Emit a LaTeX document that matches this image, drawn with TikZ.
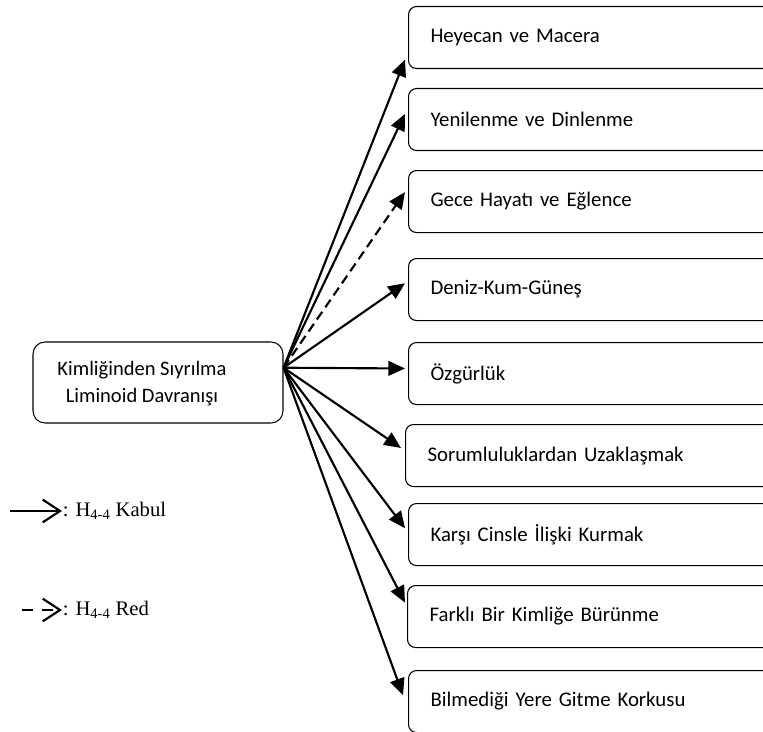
\documentclass[tikz,border=0pt]{standalone}
\usepackage{fontspec}
\setmainfont{Carlito}
\newfontfamily\legfont{Liberation Serif}
\usetikzlibrary{arrows.meta,calc}
\begin{document}
\begin{tikzpicture}[x=0.75pt,y=-0.75pt,
  box/.style={draw, line width=0.8pt, rounded corners=6pt, anchor=north west,
    minimum height=46.5pt, text width=262pt, inner xsep=16.5pt, align=left,
    font=\fontsize{15.6}{18}\selectfont},
  mainbox/.style={draw, line width=0.8pt, rounded corners=9pt,
    minimum width=187.5pt, minimum height=60.75pt},
  maintxt/.style={align=center, font=\fontsize{15.4}{20.25}\selectfont},
  fan/.style={line width=1.6pt, -{Triangle[length=12.5pt,width=11pt]}},
  fandash/.style={fan, dash pattern=on 7pt off 4pt},
  legarrow/.style={line width=1.6pt, -{Straight Barb[length=13pt,width=17pt,line width=1.6pt]}},
  legtxt/.style={anchor=west, inner sep=0.5pt, font=\legfont\fontsize{15.5}{18}\selectfont}]
\useasboundingbox (0,0) rectangle (763,731);
\clip (0,0) rectangle (763,731);

% main node
\node[mainbox] (main) at (158,382.5) {};
\node[maintxt] (maintext) at (142,383.5) {Kimliğinden Sıyrılma\\Liminoid Davranışı};
\coordinate (src) at ($(main.north east)!0.32!(main.south east)$);

% target boxes
\node[box] (b1) at (408,6)   {Heyecan ve Macera};
\node[box] (b2) at (408,88)  {Yenilenme ve Dinlenme};
\node[box] (b3) at (408,170) {Gece Hayatı ve Eğlence};
\node[box] (b4) at (408,258) {Deniz-Kum-Güneş};
\node[box] (b5) at (408,342) {Özgürlük};
\node[box] (b6) at (405,424) {Sorumluluklardan Uzaklaşmak};
\node[box] (b7) at (408,503) {Karşı Cinsle İlişki Kurmak};
\node[box] (b8) at (407,585) {Farklı Bir Kimliğe Bürünme};
\node[box] (b9) at (408,670) {Bilmediği Yere Gitme Korkusu};

% connectors
\draw[fan]     (src) -- ($(b1.north west)!0.85!(b1.south west)+(-3,0)$);
\draw[fan]     (src) -- ($(b2.north west)!0.41!(b2.south west)+(-3,0)$);
\draw[fandash] (src) -- ($(b3.north west)!0.35!(b3.south west)+(-3,0)$);
\draw[fan]     (src) -- ($(b4.north west)!0.40!(b4.south west)+(-3,0)$);
\draw[fan]     (src) -- ($(b5.north west)!0.42!(b5.south west)+(-3,0)$);
\draw[fan]     (src) -- ($(b6.north west)!0.38!(b6.south west)+(-4,0)$);
\draw[fan]     (src) -- ($(b7.north west)!0.40!(b7.south west)+(-3,0)$);
\draw[fan]     (src) -- ($(b8.north west)!0.28!(b8.south west)+(-2,0)$);
\draw[fan]     (src) -- ($(b9.north west)!0.40!(b9.south west)+(-5,0)$);

% legend
\coordinate (k1) at (10,511);
\coordinate (k2) at (62,511);
\draw[legarrow] (k1) -- (k2);
\node[legtxt] (kt) at (k2) {: H\textsubscript{4-4} Kabul};
\coordinate (r1) at (22,610);
\coordinate (r2) at (62,610);
\draw[legarrow, dash pattern=on 8.25pt off 6.75pt] (r1) -- (r2);
\node[legtxt] (rt) at (r2) {: H\textsubscript{4-4} Red};
\end{tikzpicture}
\end{document}
